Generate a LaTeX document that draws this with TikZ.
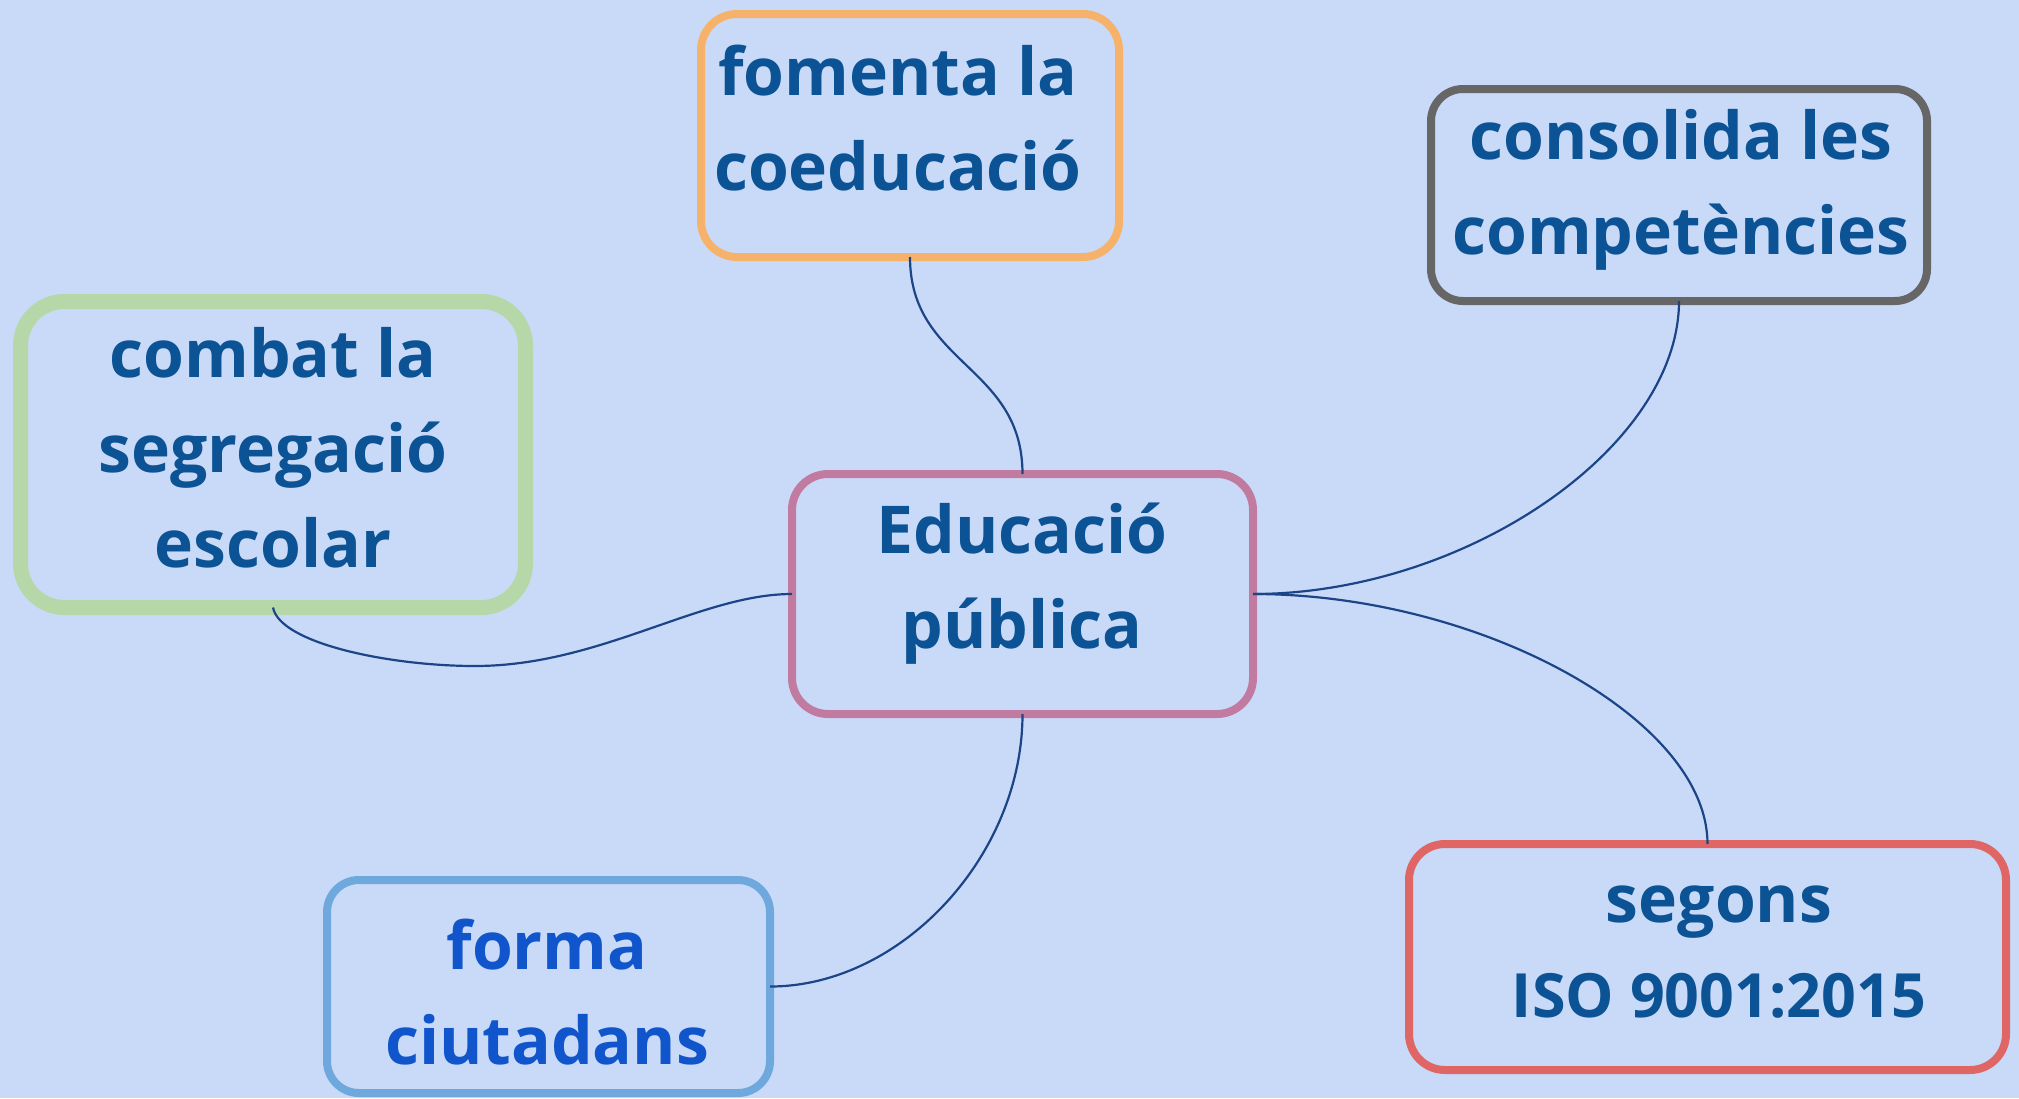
\documentclass[tikz,border=0pt]{standalone}
\usepackage{fontspec}
\setmainfont{Open Sans}
\definecolor{bgc}{HTML}{C9DAF8}
\definecolor{tcol}{HTML}{0B5394}
\definecolor{tcolb}{HTML}{1155CC}
\definecolor{ccol}{HTML}{1C4587}
\definecolor{orangeB}{HTML}{F6B26B}
\definecolor{greenB}{HTML}{B6D7A8}
\definecolor{pinkB}{HTML}{C27BA0}
\definecolor{greyB}{HTML}{666666}
\definecolor{blueB}{HTML}{6FA8DC}
\definecolor{redB}{HTML}{E06666}
\begin{document}
\begin{tikzpicture}[x=1pt,y=-1pt,
  mbox/.style={draw, fill=bgc, inner sep=0pt, outer sep=0pt, line width=8pt},
  txt/.style={font=\fontsize{66}{95}\selectfont\bfseries, text=tcol, align=center, inner sep=0pt},
  conn/.style={draw=ccol, line width=2.2pt}]
\fill[bgc] (0,0) rectangle (2019,1098);
\useasboundingbox (0,0) rectangle (2019,1098);
% boxes
\node[mbox, draw=orangeB, rounded corners=36pt, minimum width=418pt, minimum height=243pt] (fom) at (910,135.5) {};
\node[mbox, draw=greenB, line width=15pt, rounded corners=44pt, minimum width=505pt, minimum height=306pt] (comb) at (273,454.5) {};
\node[mbox, draw=pinkB, rounded corners=36pt, minimum width=461pt, minimum height=240pt] (cent) at (1022.5,594) {};
\node[mbox, draw=greyB, rounded corners=32pt, minimum width=496pt, minimum height=212pt] (cons) at (1679,195) {};
\node[mbox, draw=blueB, rounded corners=32pt, minimum width=443pt, minimum height=213pt] (forma) at (548.5,986.5) {};
\node[mbox, draw=redB, rounded corners=36pt, minimum width=597pt, minimum height=226pt] (seg) at (1707.5,957) {};
% texts (base anchor = baseline of the last line)
\node[txt, anchor=base] (fomT) at (898,190) {fomenta la\\coeducació};
\node[txt, anchor=base] (combT) at (273,567) {combat la\\segregació\\escolar};
\node[txt, anchor=base] (centT) at (1022,648) {Educació\\pública};
\node[txt, anchor=base] (consT) at (1681,254) {consolida les\\competències};
\node[txt, anchor=base, text=tcolb] (formaT) at (547,1064) {forma\\ciutadans};
\node[txt, anchor=base] (segT) at (1719,1017) {segons\\{\fontsize{61}{95}\selectfont ISO 9001:2015}};
% connectors
\coordinate (gmid) at (475,666);
\draw[conn] (fom.south) .. controls +(0,108) and +(0,-109) .. (cent.north);
\draw[conn] (cons.south) .. controls +(0,146) and +(213,0) .. (cent.east);
\draw[conn] (cent.east) .. controls +(227,0) and +(0,-125) .. (seg.north);
\draw[conn] (forma.east) .. controls +(131,0) and +(0,142) .. (cent.south);
\draw[conn] (comb.south) .. controls +(7,36) and +(-85,0) .. (gmid) .. controls +(125,0) and +(-92,0) .. (cent.west);
\end{tikzpicture}
\end{document}
